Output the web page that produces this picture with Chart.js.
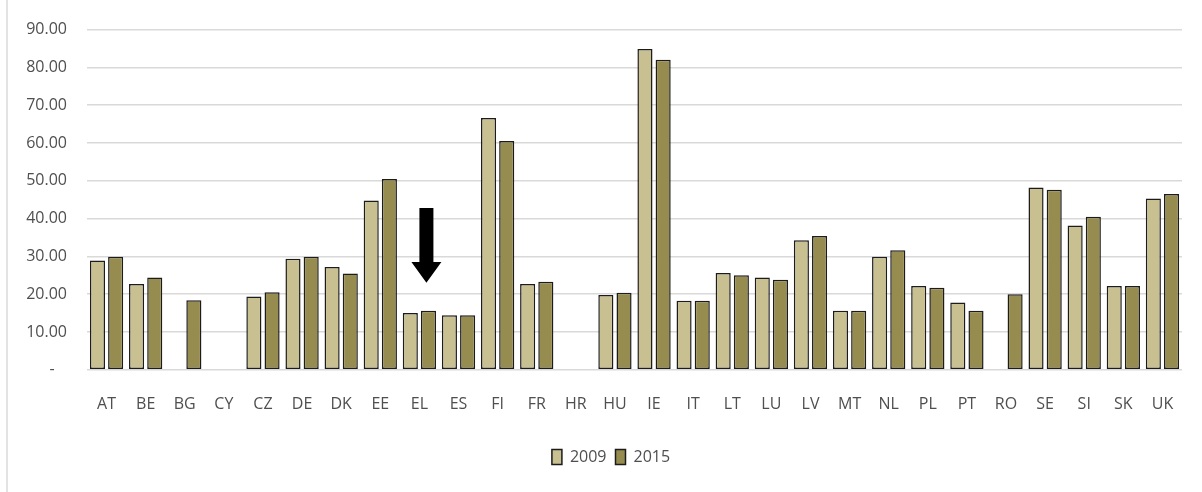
<!DOCTYPE html>
<html>
<head>
<meta charset="utf-8">
<script src="https://cdn.jsdelivr.net/npm/chart.js@4/dist/chart.umd.min.js"></script>
<style>
  html, body { margin: 0; padding: 0; background: #ffffff; }
  #wrap { position: relative; width: 1202px; height: 492px; overflow: hidden; }
  #frame { position: absolute; left: 6px; top: 0; width: 0; height: 492px; border-left: 2px solid #e3e3e3; }
  canvas { position: absolute; left: 0; top: 0; }
</style>
</head>
<body>
<div id="wrap">
  <div id="frame"></div>
  <canvas id="c" width="1202" height="492"></canvas>
</div>
<script>
// Member-state codes along the category axis
const countries = ['AT','BE','BG','CY','CZ','DE','DK','EE','EL','ES','FI','FR','HR','HU','IE','IT','LT','LU','LV','MT','NL','PL','PT','RO','SE','SI','SK','UK'];

// Series values (null = no data reported)
const values2009 = [28.9, 22.7, null, null, 19.4, 29.4, 27.2, 44.8, 15.0, 14.4, 66.6, 22.7, null, 19.8, 84.9, 18.3, 25.6, 24.4, 34.3, 15.6, 29.9, 22.2, 17.8, null, 48.2, 38.2, 22.2, 45.3];
const values2015 = [29.9, 24.4, 18.4, null, 20.5, 29.9, 25.5, 50.5, 15.6, 14.4, 60.5, 23.3, null, 20.4, 82.0, 18.3, 25.0, 23.8, 35.4, 15.6, 31.6, 21.7, 15.6, 20.0, 47.6, 40.5, 22.2, 46.5];

// Value-axis ticks
const yTicks = [0, 10, 20, 30, 40, 50, 60, 70, 80, 90];

// Arrow highlighting Greece (value-axis span of the arrow)
const arrowCategory = 'EL';
const arrowTopValue = 42.8;
const arrowHeadValue = 28.5;
const arrowTipValue = 23.0;

const FONT = { family: "'Open Sans', 'Liberation Sans', sans-serif", size: 16 };
const TEXT = '#4f4f4f';

const arrowPlugin = {
  id: 'arrowMarker',
  afterDatasetsDraw(chart) {
    const { ctx, scales: { x, y } } = chart;
    const cx = x.getPixelForValue(countries.indexOf(arrowCategory)) + 7;
    const top = y.getPixelForValue(arrowTopValue);
    const neck = y.getPixelForValue(arrowHeadValue);
    const tip = y.getPixelForValue(arrowTipValue);
    const shaft = 7, head = 15;
    ctx.save();
    ctx.fillStyle = '#000000';
    ctx.beginPath();
    ctx.moveTo(cx - shaft, top);
    ctx.lineTo(cx + shaft, top);
    ctx.lineTo(cx + shaft, neck);
    ctx.lineTo(cx + head, neck);
    ctx.lineTo(cx, tip);
    ctx.lineTo(cx - head, neck);
    ctx.lineTo(cx - shaft, neck);
    ctx.closePath();
    ctx.fill();
    ctx.restore();
  }
};

// Nudge the legend right of centre and a bit lower
const legendShift = {
  id: 'legendShift',
  afterLayout(chart) {
    chart.legend.left += 20;
    chart.legend.right += 20;
    chart.legend.top += 9;
    chart.legend.bottom += 9;
  }
};

new Chart(document.getElementById('c'), {
  type: 'bar',
  data: {
    labels: countries,
    datasets: [
      { label: '2009', data: values2009, backgroundColor: '#c9c092', borderColor: '#1c1c1c', borderWidth: 1.5, borderSkipped: false },
      { label: '2015', data: values2015, backgroundColor: '#968c50', borderColor: '#1c1c1c', borderWidth: 1.5, borderSkipped: false }
    ]
  },
  options: {
    responsive: false,
    animation: false,
    datasets: { bar: { categoryPercentage: 0.93, barPercentage: 0.83 } },
    layout: { padding: { top: 12, right: 20, bottom: 26, left: 0 } },
    plugins: {
      tooltip: { enabled: false },
      legend: {
        position: 'bottom',
        labels: {
          font: FONT, color: TEXT,
          boxWidth: 10, boxHeight: 15, padding: 9
        }
      }
    },
    scales: {
      x: {
        grid: { display: false },
        border: { display: false },
        ticks: { font: FONT, color: TEXT, padding: 17, maxRotation: 0, autoSkip: false }
      },
      y: {
        min: 0, max: 90,
        afterBuildTicks(axis) { axis.ticks = yTicks.map(v => ({ value: v })); },
        afterFit(axis) { axis.width = 87; },
        grid: { color: '#d9d9d9', lineWidth: 1.5, drawTicks: false },
        border: { display: false },
        ticks: {
          font: FONT, color: TEXT, padding: 20,
          callback: v => v === 0 ? '-   ' : v.toFixed(2)
        }
      }
    }
  },
  plugins: [arrowPlugin, legendShift]
});
</script>
</body>
</html>
